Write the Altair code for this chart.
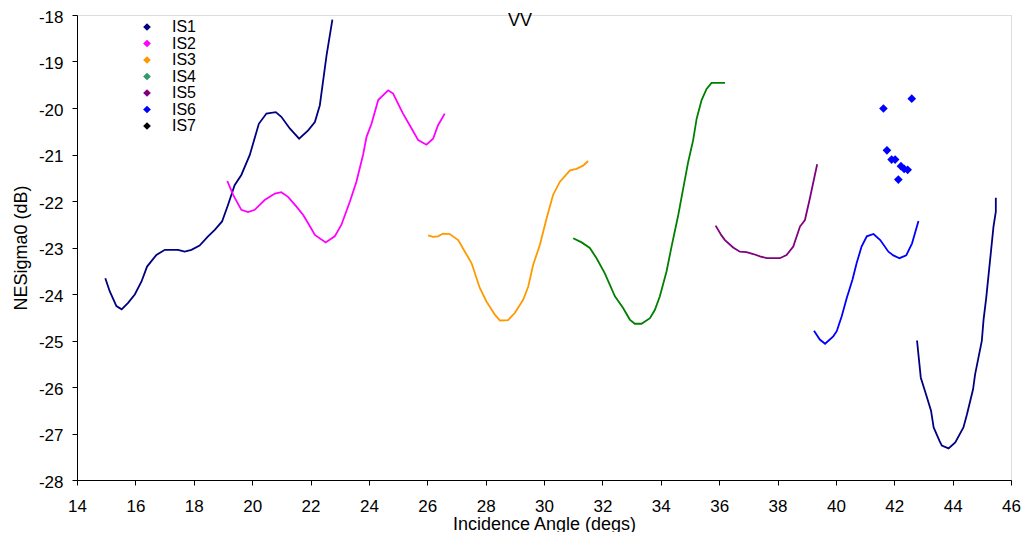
import altair as alt
import pandas as pd

# ---- data ----
is1_x = [14.97, 15.12, 15.35, 15.53, 15.75, 15.98, 16.21, 16.40, 16.72, 17.01, 17.46, 17.69, 17.92,
         18.20, 18.49, 18.72, 18.97, 19.17, 19.40, 19.63, 19.92, 20.23, 20.49, 20.81, 21.00, 21.29,
         21.61, 21.92, 22.15, 22.32, 22.55, 22.75]
is1_y = [-23.66, -23.94, -24.26, -24.33, -24.19, -24.01, -23.73, -23.41, -23.16, -23.05, -23.05, -23.09, -23.05,
         -22.96, -22.76, -22.62, -22.44, -22.09, -21.66, -21.44, -21.01, -20.34, -20.12, -20.09, -20.19, -20.44,
         -20.66, -20.48, -20.30, -19.94, -18.87, -18.10]

is2_x = [19.15, 19.35, 19.63, 19.86, 20.09, 20.43, 20.78, 21.00, 21.23, 21.52, 21.75, 21.92, 22.15, 22.52,
         22.83, 23.06, 23.35, 23.57, 23.80, 23.92, 24.09, 24.32, 24.66, 24.83, 25.17, 25.40, 25.69, 25.97,
         26.20, 26.37, 26.60]
is2_y = [-21.57, -21.87, -22.19, -22.24, -22.19, -21.98, -21.84, -21.81, -21.91, -22.12, -22.30, -22.48, -22.73, -22.89,
         -22.76, -22.51, -22.01, -21.59, -21.01, -20.62, -20.34, -19.83, -19.62, -19.69, -20.12, -20.37, -20.69, -20.79,
         -20.66, -20.37, -20.12]

is3_x = [26.03, 26.20, 26.37, 26.54, 26.77, 27.06, 27.29, 27.52, 27.80, 28.03, 28.31, 28.49, 28.77, 29.00,
         29.29, 29.46, 29.63, 29.86, 30.09, 30.31, 30.54, 30.89, 31.11, 31.34, 31.51]
is3_y = [-22.74, -22.77, -22.76, -22.70, -22.71, -22.84, -23.09, -23.34, -23.87, -24.16, -24.44, -24.57, -24.56, -24.41,
         -24.12, -23.84, -23.37, -22.94, -22.37, -21.87, -21.59, -21.34, -21.31, -21.24, -21.14]

is4_x = [31.00, 31.29, 31.57, 31.80, 32.08, 32.43, 32.71, 32.94, 33.11, 33.34, 33.63, 33.80, 33.97, 34.20,
         34.37, 34.60, 34.77, 34.94, 35.11, 35.23, 35.40, 35.57, 35.74, 36.20]
is4_y = [-22.80, -22.89, -23.01, -23.23, -23.55, -24.05, -24.30, -24.55, -24.64, -24.64, -24.52, -24.34, -24.05, -23.51,
         -22.98, -22.30, -21.73, -21.16, -20.69, -20.23, -19.83, -19.59, -19.46, -19.46]

is5_x = [35.88, 36.08, 36.20, 36.48, 36.71, 36.94, 37.17, 37.40, 37.63, 38.08, 38.31, 38.54, 38.77, 38.94,
         39.11, 39.28, 39.36]
is5_y = [-22.53, -22.74, -22.84, -23.00, -23.09, -23.10, -23.14, -23.19, -23.23, -23.23, -23.16, -22.98, -22.55, -22.41,
         -21.94, -21.44, -21.21]

is6_x = [39.25, 39.45, 39.63, 39.91, 40.03, 40.20, 40.37, 40.48, 40.57, 40.71, 40.88, 41.06, 41.29, 41.52,
         41.80, 41.97, 42.18, 42.41, 42.61, 42.83]
is6_y = [-24.79, -24.98, -25.07, -24.91, -24.80, -24.48, -24.09, -23.87, -23.69, -23.34, -22.98, -22.76, -22.71, -22.84,
         -23.09, -23.17, -23.23, -23.17, -22.91, -22.43]

is7_x = [42.78, 42.91, 43.09, 43.26, 43.35, 43.55, 43.63, 43.86, 44.09, 44.37, 44.49, 44.70, 44.77, 45.00,
         45.06, 45.15, 45.29, 45.40, 45.48, 45.48]
is7_y = [-25.00, -25.80, -26.16, -26.51, -26.87, -27.16, -27.26, -27.32, -27.19, -26.87, -26.59, -26.05, -25.73, -25.01,
         -24.55, -24.09, -23.23, -22.55, -22.23, -21.93]

pts_x = [41.63, 42.60, 41.75, 41.91, 42.03, 42.23, 42.34, 42.46, 42.14]
pts_y = [-20.01, -19.80, -20.91, -21.11, -21.11, -21.25, -21.31, -21.33, -21.54]

legend_names = ["IS1", "IS2", "IS3", "IS4", "IS5", "IS6", "IS7"]
legend_colors = ["#000080", "#FF00FF", "#FF9900", "#339966", "#800080", "#0000FF", "#000000"]

chart_title = "VV"

segments = [
    ("IS1", "#000080", is1_x, is1_y),
    ("IS2", "#FF00FF", is2_x, is2_y),
    ("IS3", "#FF9900", is3_x, is3_y),
    ("IS4", "#008000", is4_x, is4_y),
    ("IS5", "#800080", is5_x, is5_y),
    ("IS6", "#0000FF", is6_x, is6_y),
    ("IS7", "#000080", is7_x, is7_y),
]

rows = []
for name, col, xs_, ys_ in segments:
    for i, (a, b) in enumerate(zip(xs_, ys_)):
        rows.append({"seg": name, "col": col, "angle": a, "nes": b, "order": i})
lines_df = pd.DataFrame(rows)
pts_df = pd.DataFrame({"angle": pts_x, "nes": pts_y, "series": ["IS6"] * len(pts_x)})

FONT = "Liberation Sans"
MINUS_FIX = "datum.value < 0 ? '-' + abs(datum.value) : '' + datum.value"

xs = alt.X("angle:Q", scale=alt.Scale(domain=[14, 46], nice=False, zero=False),
           axis=alt.Axis(title="Incidence Angle (degs)", values=list(range(14, 47, 2)),
                         grid=False, tickSize=5, labelPadding=13, titlePadding=1,
                         domainColor="black", tickColor="black", labelColor="black", titleColor="black",
                         labelFontSize=17, titleFontSize=18, titleFontWeight="normal",
                         labelFont=FONT, titleFont=FONT, labelFlush=False, labelExpr=MINUS_FIX))
ys = alt.Y("nes:Q", scale=alt.Scale(domain=[-28, -18], nice=False, zero=False),
           axis=alt.Axis(title="NESigma0 (dB)", values=list(range(-28, -17)),
                         grid=False, tickSize=5, labelPadding=9, titlePadding=8, labelOffset=2,
                         domainColor="black", tickColor="black", labelColor="black", titleColor="black",
                         labelFontSize=17, titleFontSize=18, titleFontWeight="normal",
                         labelFont=FONT, titleFont=FONT, labelExpr=MINUS_FIX))

lines = alt.Chart(lines_df).mark_line(strokeWidth=1.8, interpolate="linear").encode(
    x=xs, y=ys,
    color=alt.Color("col:N", scale=None),
    detail="seg:N",
    order="order:Q",
)

points = alt.Chart(pts_df).mark_point(shape="diamond", filled=True, size=75, opacity=1).encode(
    x=xs, y=ys,
    color=alt.Color("series:N",
                    scale=alt.Scale(domain=legend_names, range=legend_colors),
                    legend=alt.Legend(title=None, orient="none", legendX=62, legendY=4,
                                      symbolType="diamond", symbolSize=60, labelOffset=17,
                                      labelFontSize=16, labelFont=FONT, labelColor="black",
                                      rowPadding=0.5, padding=0, symbolOpacity=1,
                                      values=legend_names)),
)

title_mark = alt.Chart(pd.DataFrame({"t": [chart_title]})).mark_text(
    font=FONT, fontSize=18, color="black", align="center", baseline="middle"
).encode(x=alt.value(443), y=alt.value(6), text="t:N")

chart = alt.layer(lines, points, title_mark).properties(
    width=934, height=465,
    autosize=alt.AutoSizeParams(type="none"),
    padding={"left": 69, "top": 7, "right": 12, "bottom": 52},
).configure_view(stroke="transparent").configure(background="white")

chart.save("out.html", embed_options={"renderer": "svg", "actions": False})
